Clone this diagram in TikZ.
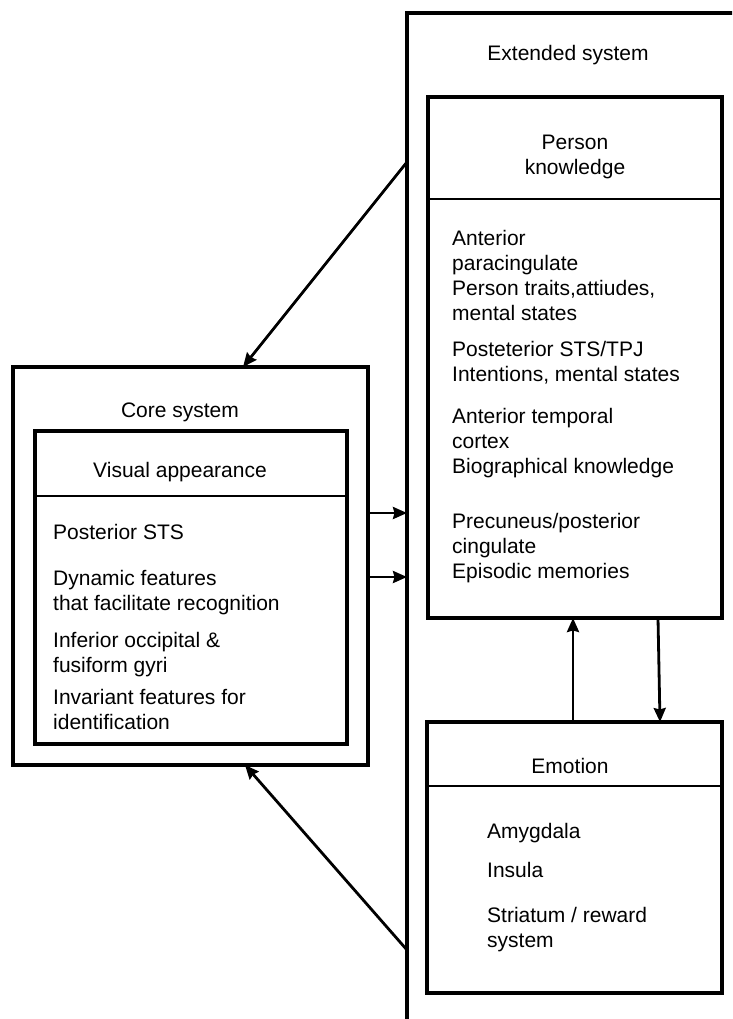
\documentclass[tikz,border=0pt]{standalone}
\usepackage{fontspec}
\setmainfont{Liberation Sans}
\usepackage{xcolor}
\usepackage{tikz}
\usetikzlibrary{arrows.meta, positioning, calc}
\tikzset{
  frame/.style={rectangle, draw=black, line width=3.4pt, anchor=north west, inner sep=0pt, outer sep=0pt},
  divider/.style={draw=black, line width=1.8pt},
  heading/.style={font=\fontsize{21}{25}\selectfont, text=black, align=center, inner sep=0pt},
  body/.style={font=\fontsize{21}{25}\selectfont, text=black, align=left, anchor=west, inner sep=0pt},
  arrow/.style={line width=2.8pt, -{Stealth[length=14pt, width=12pt, inset=1.5pt]}}
}

\begin{document}
\begin{tikzpicture}[x=1pt, y=-1pt]
\useasboundingbox (0,0) rectangle (732,1019);
\clip (0,0) rectangle (732,1019);

\node[frame, minimum width=360pt, minimum height=1040pt] (ext) at (407,13) {};
\node[heading] (exttitle) at (568,55) {Extended system};

\node[frame, minimum width=294pt, minimum height=521pt] (pk) at (428,97) {};
\node[heading] (pktitle) at (575,157) {Person\\knowledge};
\draw[divider] ([yshift=-102pt]pk.north west) -- ([yshift=-102pt]pk.north east);
\node[body] (pk1) at (452,275.5) {Anterior\\paracingulate\\Person traits,attiudes,\\mental states};
\node[body] (pk2) at (452,363) {Posteterior STS/TPJ\\Intentions, mental states};
\node[body] (pk3) at (452,443) {Anterior temporal\\cortex\\Biographical knowledge};
\node[body] (pk4) at (452,548) {Precuneus/posterior\\cingulate\\Episodic memories};

\node[frame, minimum width=295pt, minimum height=271pt] (emo) at (427,722) {};
\node[heading] (emotitle) at (570,766) {Emotion};
\draw[divider] ([yshift=-64pt]emo.north west) -- ([yshift=-64pt]emo.north east);
\node[body] (emo1) at (487,833) {Amygdala};
\node[body] (emo2) at (487,870) {Insula};
\node[body] (emo3) at (487,929.5) {Striatum / reward\\system};

\node[frame, minimum width=355pt, minimum height=398pt] (core) at (13,367) {};
\node[heading] (coretitle) at (180,412) {Core system};
\node[frame, minimum width=312pt, minimum height=313pt] (vis) at (35,431) {};
\node[heading] (vistitle) at (180,472) {Visual appearance};
\draw[divider] ([yshift=-65pt]vis.north west) -- ([yshift=-65pt]vis.north east);
\node[body] (vis1) at (53,532) {Posterior STS};
\node[body] (vis2) at (53,592.5) {Dynamic features\\that facilitate recognition};
\node[body] (vis3) at (53,654.5) {Inferior occipital \&\\fusiform gyri};
\node[body] (vis4) at (53,709.5) {Invariant features for\\identification};

\coordinate (kout) at (407,162);
\coordinate (eout) at (407,950);
\draw[arrow] (kout) -- ([xshift=52.5pt]core.north);
\draw[arrow] (eout) -- ([xshift=54.5pt]core.south);
\draw[arrow] ([yshift=53pt]core.east) -- ([yshift=53pt]core.east -| ext.west);
\draw[arrow] ([yshift=-11pt]core.east) -- ([yshift=-11pt]core.east -| ext.west);
\draw[arrow] ([xshift=-1.5pt]emo.north) -- ([xshift=-1.5pt]emo.north |- pk.south);
\draw[arrow] ([xshift=83pt]pk.south) -- ([xshift=85pt]pk.south |- emo.north);
\end{tikzpicture}
\end{document}
